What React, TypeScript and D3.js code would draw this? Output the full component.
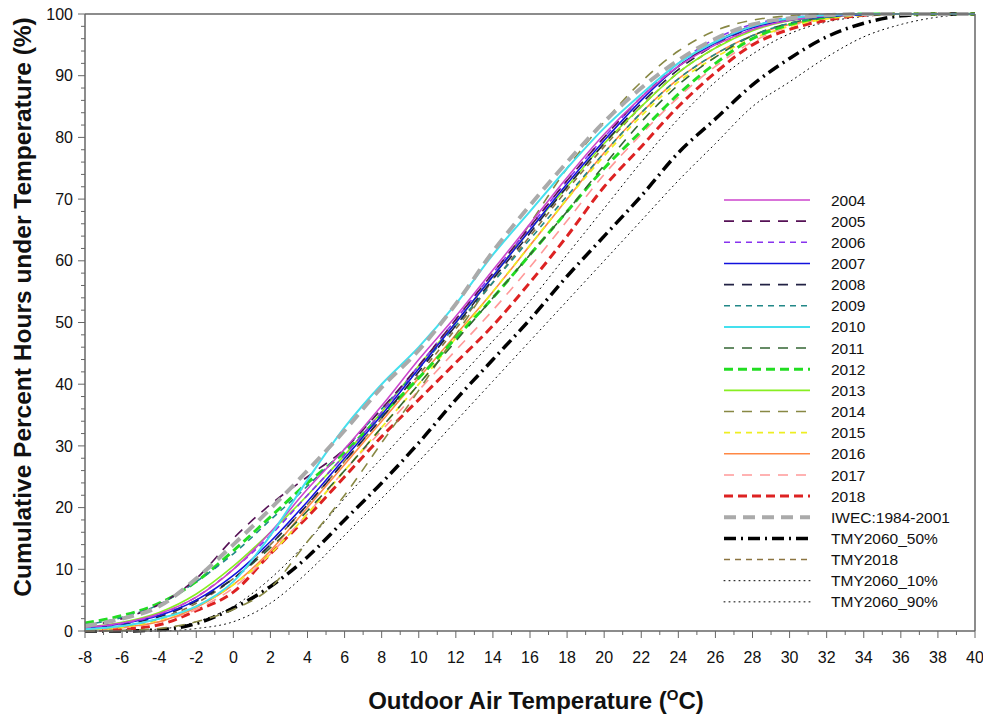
import React from "react";
import * as d3 from "d3";

const temps = d3.range(-8, 41, 2);

const s2004 = [0.6,1.3,2.8,5.5,10,16,23,29.5,36.5,44,51,58.5,66,73.5,80.5,86.5,91.5,95,97.5,99,99.7,100,100,100,100];
const s2005 = [0.8,2,4.3,8.5,15,20.5,25,29.5,36,43,50.5,58,65.5,73,80,86.5,91.5,95.5,98,99.2,99.7,100,100,100,100];
const s2006 = [0.5,1.2,2.7,5.5,10,15.5,22,28.5,35.5,43,50.5,58,65.5,73,80,86.5,92,96,98.3,99.4,99.8,100,100,100,100];
const s2007 = [0.5,1.2,2.5,5,9,14.5,21,28,35,42.5,50,57.5,65,72.5,79.5,86,91.5,95.3,97.8,99,99.6,99.9,100,100,100];
const s2008 = [0.4,1,2.3,4.8,8.5,14,20.5,27.5,34.5,42,49.5,57,64.5,72,79,85.5,91,95,97.8,99.2,99.8,100,100,100,100];
const s2009 = [1,2.2,4.3,8,12.5,18,23.5,29.5,36,42.5,49.5,56.5,63.5,70.5,77.5,84,89.5,93.5,96.5,98.5,99.5,100,100,100,100];
const s2010 = [0.3,0.8,2,4,8,15.5,24.5,33,40,46,53,61,68,75,81.5,87,92,95.5,98,99.3,99.8,100,100,100,100];
const s2011 = [0.5,1.2,2.5,5,8.5,13.5,19.5,26,33,40,47,54,61,68,75.5,82.5,88.5,93,96.5,98.5,99.5,100,100,100,100];
const s2012 = [1.3,2.5,4.5,8,13,18.5,24,29,35,41,47.5,54,61,68,75,81,87,92,96,98.3,99.5,100,100,100,100];
const s2013 = [0.6,1.4,3,6,10.5,16,22,28.5,35.5,43,50,57.5,65,72,79,85,90.5,94.5,97.3,98.9,99.6,100,100,100,100];
const s2014 = [0,0.1,0.4,1.5,3.5,7,14.5,22,30.5,39,48,57,66,75,82.5,89,94,97.3,99,99.7,100,100,100,100,100];
const s2015 = [0.2,0.6,1.8,4,7.5,12.5,19,26,33,40,47.5,55,62.5,70,77,83.5,89,93,96,98,99.2,99.8,100,100,100];
const s2016 = [0.2,0.6,1.5,3.8,7.5,13,20,27,34,41,48,55,62.5,70,77.5,84,89.5,93.5,96.5,98.3,99.3,100,100,100,100];
const s2017 = [0.2,0.5,1.5,3.5,7,12.5,19,26,32.5,39,45.5,52,59,66.5,74,80.5,86.5,91.5,95.5,98,99.3,99.8,100,100,100];
const s2018 = [0.1,0.3,1,3.3,6.3,12.5,18.5,25,31.5,37.5,43.5,49.5,56.5,64,72,78.5,85,90.5,95,97.5,99,99.8,100,100,100];
const iwec = [0.8,2,4,8.5,14,19.8,26,32.5,39.5,45.5,53,61.5,69,76,82.5,88,92.5,96,98.3,99.3,99.8,100,100,100,100];
const tmy2060_50 = [0,0,0.2,1.2,3.7,7.2,12,18,24,30.5,37.5,44,50.5,57.5,64,70.5,77.5,83,88.5,92.8,96.3,98.5,99.7,100,100];
const tmy2018 = [0.3,0.8,2,4.5,8.5,14,20.5,27.5,34.5,41.5,49,56.5,64,71.5,78.5,85,90.5,94.5,97.5,99,99.7,100,100,100,100];
const tmy2060_10 = [0,0.1,0.3,1.5,4,8.5,14.5,21.5,28,34.5,40.5,47,53.5,61,68.5,76,83,89,93.5,96.8,98.7,99.6,100,100,100];
const tmy2060_90 = [0,0,0,0.4,1.5,4.5,9.5,15.5,21.5,27.5,34,40.5,47,53.5,60,66.5,73,79,85,89,93,96.3,98.3,99.5,100];

const seriesNames = ["2004","2005","2006","2007","2008","2009","2010","2011","2012","2013","2014","2015","2016","2017","2018","IWEC:1984-2001","TMY2060_50%","TMY2018","TMY2060_10%","TMY2060_90%"];
const seriesValues = [s2004,s2005,s2006,s2007,s2008,s2009,s2010,s2011,s2012,s2013,s2014,s2015,s2016,s2017,s2018,iwec,tmy2060_50,tmy2018,tmy2060_10,tmy2060_90];

const styles = [
  { color: "#cc44cc", width: 1.6, dash: "" },
  { color: "#551155", width: 1.6, dash: "10,8" },
  { color: "#8833ee", width: 1.6, dash: "6,5" },
  { color: "#1111dd", width: 1.6, dash: "" },
  { color: "#222244", width: 1.6, dash: "10,8" },
  { color: "#228888", width: 1.6, dash: "6,5" },
  { color: "#44e0ee", width: 2, dash: "" },
  { color: "#336633", width: 1.6, dash: "10,8" },
  { color: "#22dd22", width: 3, dash: "9,5" },
  { color: "#88ee22", width: 1.6, dash: "" },
  { color: "#888844", width: 1.6, dash: "10,8" },
  { color: "#eeee22", width: 1.8, dash: "6,5" },
  { color: "#ff8844", width: 1.6, dash: "" },
  { color: "#ff9999", width: 1.6, dash: "10,8" },
  { color: "#dd2222", width: 3, dash: "9,5" },
  { color: "#aaaaaa", width: 4, dash: "12,7" },
  { color: "#000000", width: 3.5, dash: "12,5,2,5" },
  { color: "#8b7440", width: 1.6, dash: "6,5" },
  { color: "#000000", width: 1, dash: "1,4" },
  { color: "#000000", width: 1, dash: "1,4" },
];

const xTicks = d3.range(-8, 41, 2);
const yTicks = d3.range(0, 101, 10);

export default function App() {
  const W = 983, H = 717;
  const x = d3.scaleLinear().domain([-8, 40]).range([85, 975]);
  const y = d3.scaleLinear().domain([0, 100]).range([631, 14]);
  const line = d3.line<number>().x((_, i) => x(temps[i])).y((d) => y(d)).curve(d3.curveMonotoneX);
  const axisColor = "#666";
  const font = "'Liberation Sans', Arial, sans-serif";
  const drawOrder = [19, 18, 16, 14, 13, 12, 11, 17, 10, 9, 8, 7, 5, 4, 3, 2, 1, 0, 6, 15];

  return (
    <svg width={W} height={H} style={{ position: "absolute", left: 0, top: 0, background: "#fff" }} fontFamily={font}>
      <rect x={0} y={0} width={W} height={H} fill="#fff" />
      {drawOrder.map((i) => (
        <path key={i} d={line(seriesValues[i]) || ""} fill="none" stroke={styles[i].color}
          strokeWidth={styles[i].width} strokeDasharray={styles[i].dash} strokeLinecap={styles[i].dash === "1,4" ? "round" : "butt"} />
      ))}
      {/* frame */}
      <line x1={85} x2={975} y1={14} y2={14} stroke={axisColor} strokeWidth={1.5} />
      <line x1={975} x2={975} y1={14} y2={631} stroke={axisColor} strokeWidth={1.5} />
      <line x1={85} x2={85} y1={14} y2={631} stroke={axisColor} strokeWidth={1.5} />
      <line x1={85} x2={975} y1={631} y2={631} stroke={axisColor} strokeWidth={1.5} />
      {/* y ticks */}
      {d3.range(0, 101, 2).map((v) => (
        <line key={"ym" + v} x1={v % 10 === 0 ? 78 : 81} x2={85} y1={y(v)} y2={y(v)} stroke={axisColor} strokeWidth={1} />
      ))}
      {yTicks.map((v) => (
        <text key={"yt" + v} x={73} y={y(v)} dy="0.35em" textAnchor="end" fontSize={16} fill="#111">{v}</text>
      ))}
      {/* x ticks */}
      {d3.range(-8, 41, 1).map((v) => (
        <line key={"xm" + v} x1={x(v)} x2={x(v)} y1={631} y2={v % 2 === 0 ? 638 : 635} stroke={axisColor} strokeWidth={1} />
      ))}
      {xTicks.map((v) => (
        <text key={"xt" + v} x={x(v)} y={663} textAnchor="middle" fontSize={16} fill="#111">{v}</text>
      ))}
      {/* axis titles */}
      <text x={536} y={709} textAnchor="middle" fontSize={24} fontWeight="bold" fill="#111">
        Outdoor Air Temperature (<tspan fontSize={15} dy={-9}>O</tspan><tspan dy={9}>C)</tspan>
      </text>
      <text transform="translate(31,307) rotate(-90)" textAnchor="middle" fontSize={24.5} fontWeight="bold" fill="#111">
        Cumulative Percent Hours under Temperature (%)
      </text>
      {/* legend */}
      {seriesNames.map((name, i) => {
        const ly = 200 + i * 21.15;
        return (
          <g key={"lg" + i}>
            <line x1={724} x2={810} y1={ly} y2={ly} stroke={styles[i].color} strokeWidth={styles[i].width}
              strokeDasharray={styles[i].dash} strokeLinecap={styles[i].dash === "1,4" ? "round" : "butt"} />
            <text x={831} y={ly} dy="0.36em" fontSize={15.5} fill="#111">{name}</text>
          </g>
        );
      })}
    </svg>
  );
}
